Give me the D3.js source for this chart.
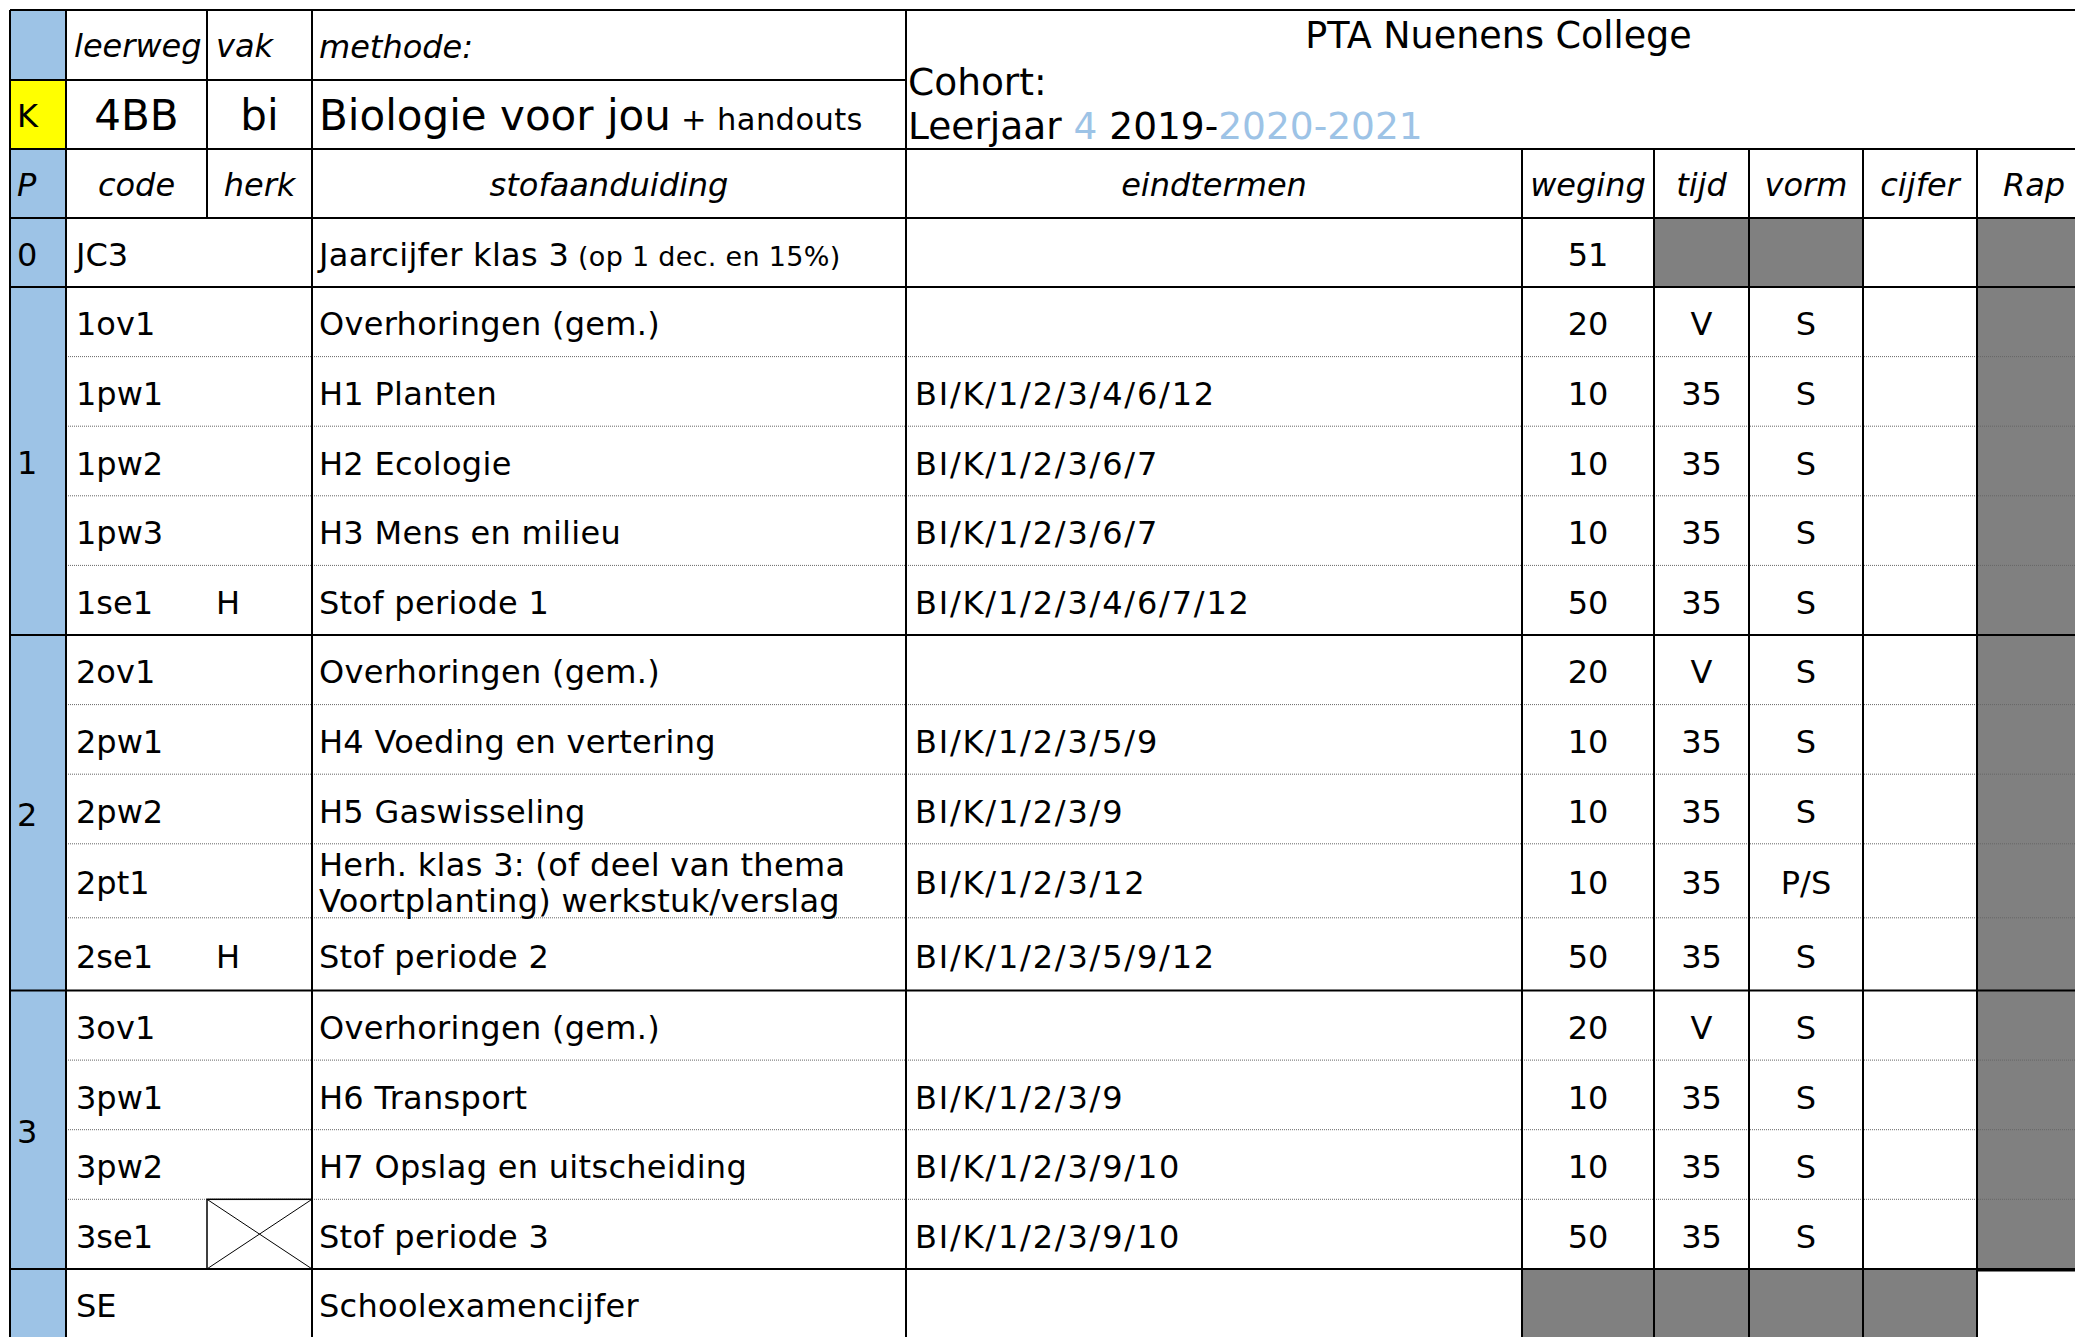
<!DOCTYPE html>
<html>
<head>
<meta charset="utf-8">
<script src="https://cdn.jsdelivr.net/npm/d3@7"></script>
<style>
  body { margin: 0; background: #fff; }
  svg text { font-family: "DejaVu Sans", Verdana, sans-serif; fill: #000; }
</style>
</head>
<body>
<div id="pta"></div>
<script>
// header texts
const title = "PTA Nuenens College";
const leerweg = "4BB", vak = "bi", methode = "Biologie voor jou", methodeExtra = "+ handouts";
const colHeads = ["P", "code", "herk", "stofaanduiding", "eindtermen", "weging", "tijd", "vorm", "cijfer", "Rap"];

// table rows
const codes = ["JC3","1ov1","1pw1","1pw2","1pw3","1se1","2ov1","2pw1","2pw2","2pt1","2se1","3ov1","3pw1","3pw2","3se1","SE"];
const periods = ["0","1","2","3",""];
const rowPeriod = ["0","1","1","1","1","1","2","2","2","2","2","3","3","3","3",""];
const herk = ["","","","","","H","","","","","H","","","","X",""];
const stof = ["Jaarcijfer klas 3","Overhoringen (gem.)","H1 Planten","H2 Ecologie","H3 Mens en milieu","Stof periode 1",
  "Overhoringen (gem.)","H4 Voeding en vertering","H5 Gaswisseling","Herh. klas 3: (of deel van thema|Voortplanting) werkstuk/verslag",
  "Stof periode 2","Overhoringen (gem.)","H6 Transport","H7 Opslag en uitscheiding","Stof periode 3","Schoolexamencijfer"];
const stofNote = ["(op 1 dec. en 15%)","","","","","","","","","","","","","","",""];
const eindtermen = ["","","BI/K/1/2/3/4/6/12","BI/K/1/2/3/6/7","BI/K/1/2/3/6/7","BI/K/1/2/3/4/6/7/12",
  "","BI/K/1/2/3/5/9","BI/K/1/2/3/9","BI/K/1/2/3/12","BI/K/1/2/3/5/9/12","","BI/K/1/2/3/9","BI/K/1/2/3/9/10","BI/K/1/2/3/9/10",""];
const weging = ["51","20","10","10","10","50","20","10","10","10","50","20","10","10","50",""];
const tijd = ["","V","35","35","35","35","V","35","35","35","35","V","35","35","35",""];
const vorm = ["","S","S","S","S","S","S","S","S","P/S","S","S","S","S","S",""];
// shaded cells: [row code, column]
const grayCells = [["JC3","tijd"],["JC3","vorm"],["SE","weging"],["SE","tijd"],["SE","vorm"],["SE","cijfer"]];

const W = 2075, H = 1337;
const blue = "#9dc3e6", gray = "#808080";
const FS = 32;

const cols = ["P","code","herk","stof","eind","weging","tijd","vorm","cijfer","rap"];
const colEdges = [10, 66, 207, 312, 906, 1522, 1654, 1749, 1863, 1977, 2091];
const x = d3.scaleOrdinal().domain(cols).range(colEdges.slice(0, -1));
const xr = d3.scaleOrdinal().domain(cols).range(colEdges.slice(1));
const xm = c => (x(c) + xr(c)) / 2;

// row layout
const rowH = codes.map(c => c === "2pt1" ? 74 : c === "2se1" ? 72.7 : c === "JC3" ? 69 : 69.6);
const tops = [218, ...d3.cumsum(rowH).map(v => 218 + v)];
const y = d3.scaleOrdinal().domain(codes).range(tops.slice(0, -1));
const yb = d3.scaleOrdinal().domain(codes).range(tops.slice(1));
const ym = c => (y(c) + yb(c)) / 2;
const base = (mid, fs) => mid + fs * 0.38;

const svg = d3.select("#pta").append("svg").attr("width", W).attr("height", H);

// blue period column + yellow K cell
svg.append("rect").attr("x", x("P")).attr("y", 10).attr("width", xr("P") - x("P")).attr("height", H).attr("fill", blue);
svg.append("rect").attr("x", x("P")).attr("y", 80).attr("width", xr("P") - x("P")).attr("height", 69).attr("fill", "#ffff00");

// gray cells
svg.append("rect").attr("x", x("rap")).attr("y", y("JC3")).attr("width", xr("rap") - x("rap"))
  .attr("height", yb("3se1") - y("JC3")).attr("fill", gray);
svg.selectAll(".gcell").data(grayCells).enter().append("rect")
  .attr("x", d => x(d[1])).attr("y", d => y(d[0]))
  .attr("width", d => xr(d[1]) - x(d[1]))
  .attr("height", d => yb(d[0]) - y(d[0]) + (d[0] === "SE" ? 10 : 0))
  .attr("fill", gray);

const line = (x1, y1, x2, y2, w, dash) => svg.append("line")
  .attr("x1", x1).attr("y1", y1).attr("x2", x2).attr("y2", y2)
  .attr("stroke", dash ? "#666" : "#000").attr("stroke-width", w || 2)
  .attr("stroke-dasharray", dash ? "1 1" : null);

// dotted separators within periods
codes.forEach((c, i) => {
  if (i > 0 && rowPeriod[i] === rowPeriod[i - 1] && rowPeriod[i] !== "")
    line(x("code"), y(c), W, y(c), 1, true);
});

// solid horizontal lines
line(10, 10, W, 10);
line(10, 80, x("eind"), 80);
line(10, 149, W, 149);
line(10, 218, W, 218);
codes.forEach((c, i) => {
  if (i > 0 && rowPeriod[i] !== rowPeriod[i - 1]) line(10, y(c), W, y(c));
});
line(x("rap"), yb("3se1") + 1, W, yb("3se1") + 1, 3);

// vertical lines
[10, x("code"), x("herk"), x("stof"), x("eind")].forEach(v => line(v, 10, v, 149));
cols.slice(1).forEach(c => {
  if (c !== "herk") line(x(c), 149, x(c), H + 5);
  else line(x(c), 149, x(c), 218);
});
line(xr("rap"), 149, xr("rap"), H + 5);
line(10, 149, 10, H + 5);

// crossed herk cell
const xc = herk.map((h, i) => h === "X" ? codes[i] : null).filter(Boolean);
xc.forEach(c => {
  const x0 = x("herk"), x1 = xr("herk"), y0 = y(c), y1 = yb(c);
  svg.append("rect").attr("x", x0).attr("y", y0).attr("width", x1 - x0).attr("height", y1 - y0)
    .attr("fill", "none").attr("stroke", "#000").attr("stroke-width", 1.5);
  line(x0, y0, x1, y1, 1);
  line(x0, y1, x1, y0, 1);
});

// header texts
const txt = (s, tx, ty, fs, opts) => {
  const t = svg.append("text").attr("x", tx).attr("y", ty).attr("font-size", fs).text(s);
  if (opts && opts.anchor) t.attr("text-anchor", opts.anchor);
  if (opts && opts.italic) t.attr("font-style", "italic");
  if (opts && opts.fill) t.style("fill", opts.fill);
  if (opts && opts.ls) t.attr("letter-spacing", opts.ls);
  return t;
};
txt("leerweg", x("code") + 8, base(45, FS), FS, {italic: true});
txt("vak", x("herk") + 9, base(45, FS), FS, {italic: true});
txt("methode:", x("stof") + 7, base(46, FS), FS, {italic: true});
txt("K", x("P") + 7, base(114.5, FS), FS);
txt(leerweg, xm("code"), 130, 42, {anchor: "middle"});
txt(vak, xm("herk"), 130, 42, {anchor: "middle"});
const mt = txt(methode, x("stof") + 7, 130, 42);
mt.append("tspan").attr("font-size", 30.5).attr("letter-spacing", 0.4).text("  " + methodeExtra);

txt(title, (x("eind") + xr("rap")) / 2, 48, 36.5, {anchor: "middle"});
txt("Cohort:", x("eind") + 2, 95, 37.5);
const lj = txt("Leerjaar ", x("eind") + 2, 139, 37.5);
lj.append("tspan").style("fill", blue).text("4");
lj.append("tspan").text(" 2019-");
lj.append("tspan").style("fill", blue).text("2020-2021");

// column headings
cols.forEach((c, i) => {
  if (c === "P") txt(colHeads[i], x(c) + 7, base(184, FS), FS, {italic: true});
  else txt(colHeads[i], xm(c), base(184, FS), FS, {italic: true, anchor: "middle"});
});

// period labels
periods.filter(p => p !== "").forEach(p => {
  const rows = codes.filter((c, i) => rowPeriod[i] === p);
  const mid = (y(rows[0]) + yb(rows[rows.length - 1])) / 2;
  txt(p, x("P") + 7, base(mid, FS) + 1, FS);
});

// body rows
codes.forEach((c, i) => {
  const by = base(ym(c), FS) + 1.5;
  txt(c, x("code") + 10, by, FS);
  if (herk[i] && herk[i] !== "X") txt(herk[i], x("herk") + 9, by, FS);
  if (stof[i].includes("|")) {
    const parts = stof[i].split("|");
    txt(parts[0], x("stof") + 7, y(c) + 32, FS, {ls: 0.3});
    txt(parts[1], x("stof") + 7, y(c) + 68, FS, {ls: 0.3});
  } else {
    const t = txt(stof[i], x("stof") + 7, by, FS, {ls: 0.3});
    if (stofNote[i]) t.append("tspan").attr("font-size", 27).text(" " + stofNote[i]);
  }
  if (eindtermen[i]) txt(eindtermen[i], x("eind") + 9, by, FS, {ls: 1.8});
  if (weging[i]) txt(weging[i], xm("weging"), by, FS, {anchor: "middle"});
  if (tijd[i]) txt(tijd[i], xm("tijd"), by, FS, {anchor: "middle"});
  if (vorm[i]) txt(vorm[i], xm("vorm"), by, FS, {anchor: "middle"});
});
</script>
</body>
</html>
